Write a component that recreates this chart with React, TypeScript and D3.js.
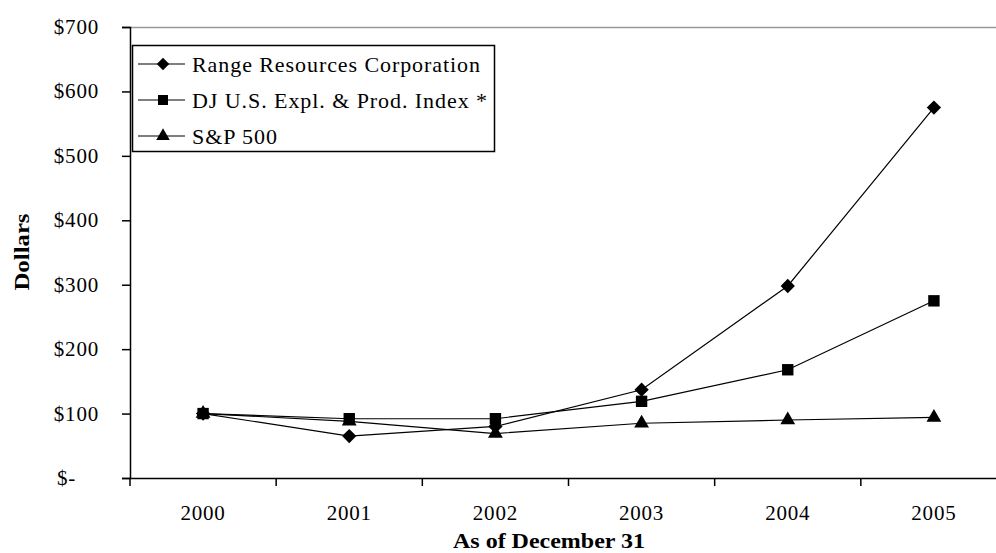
import { useEffect, useRef } from 'react';
import * as d3 from 'd3';

const years = ['2000', '2001', '2002', '2003', '2004', '2005'];
const rangeValues = [100, 65, 80, 137, 298, 575];
const djValues = [100, 92, 92, 119, 168, 275];
const spValues = [100, 88, 69, 85, 90, 94];
const yTicks = [0, 100, 200, 300, 400, 500, 600, 700];

const seriesNames = ['Range Resources Corporation', 'DJ U.S. Expl. & Prod. Index *', 'S&P 500'];
const seriesValues = [rangeValues, djValues, spValues];
const seriesMarkers = [d3.symbolDiamond2, d3.symbolSquare, d3.symbolTriangle];
const legendWidths = [288, 295, 85];

export default function App() {
  const svgRef = useRef(null);

  useEffect(() => {
    document.body.style.margin = '0';
    const svg = d3.select(svgRef.current);
    svg.selectAll('*').remove();

    const font = '"Liberation Serif", "Times New Roman", serif';
    const x = d3.scaleBand().domain(years).range([130, 1007]);
    const y = d3.scaleLinear().domain([0, 700]).range([478, 27]);

    // top border of plot area
    svg.append('line')
      .attr('x1', 130).attr('x2', 996)
      .attr('y1', 27.5).attr('y2', 27.5)
      .attr('stroke', '#999').attr('stroke-width', 1.5);

    // Y axis
    const yAxis = svg.append('g')
      .attr('transform', 'translate(130,0)')
      .call(d3.axisLeft(y).tickValues(yTicks).tickSize(8).tickFormat(() => ''));
    yAxis.select('.domain').attr('stroke-width', 1.5);
    yAxis.selectAll('.tick line').attr('stroke-width', 1.5);

    svg.append('g').selectAll('text')
      .data(yTicks)
      .enter()
      .append('text')
      .attr('x', d => d === 0 ? 76 : 99)
      .attr('y', d => y(d) + 7)
      .attr('text-anchor', 'end')
      .style('font-family', font)
      .style('font-size', '21px')
      .style('letter-spacing', '0.8px')
      .text(d => d === 0 ? '$-' : `$${d}`);

    // X axis
    const xAxis = svg.append('g')
      .attr('transform', 'translate(0,478)')
      .call(d3.axisBottom(x).tickSize(0).tickFormat(() => ''));
    xAxis.select('.domain').attr('stroke-width', 1.5);
    xAxis.append('g').selectAll('line')
      .data(years)
      .enter()
      .append('line')
      .attr('x1', d => x(d))
      .attr('x2', d => x(d))
      .attr('y1', 0).attr('y2', 8)
      .attr('stroke', '#000').attr('stroke-width', 1.5);

    svg.append('g').selectAll('text')
      .data(years)
      .enter()
      .append('text')
      .attr('x', d => x(d) + x.bandwidth() / 2)
      .attr('y', 520)
      .attr('text-anchor', 'middle')
      .style('font-family', font)
      .style('font-size', '21px')
      .style('letter-spacing', '0.8px')
      .text(d => d);

    // axis titles
    svg.append('text')
      .attr('transform', 'translate(29,252) rotate(-90)')
      .attr('text-anchor', 'middle')
      .attr('textLength', 77)
      .attr('lengthAdjust', 'spacingAndGlyphs')
      .style('font-family', font)
      .style('font-size', '20px')
      .style('font-weight', 'bold')
      .text('Dollars');

    svg.append('text')
      .attr('x', 549)
      .attr('y', 548)
      .attr('text-anchor', 'middle')
      .attr('textLength', 192)
      .attr('lengthAdjust', 'spacingAndGlyphs')
      .style('font-family', font)
      .style('font-size', '20px')
      .style('font-weight', 'bold')
      .text('As of December 31');

    // series
    const line = d3.line()
      .x((d, i) => x(years[i]) + x.bandwidth() / 2)
      .y(d => y(d));

    seriesValues.forEach((vals, s) => {
      svg.append('path')
        .datum(vals)
        .attr('fill', 'none')
        .attr('stroke', '#000')
        .attr('stroke-width', 1.2)
        .attr('d', line);

      const sym = d3.symbol().type(seriesMarkers[s]).size(s === 2 ? 95 : 130);
      svg.append('g').selectAll('path')
        .data(vals)
        .enter()
        .append('path')
        .attr('transform', (d, i) => `translate(${x(years[i]) + x.bandwidth() / 2},${y(d)})`)
        .attr('d', sym())
        .attr('fill', '#000');
    });

    // legend
    const legend = svg.append('g');
    legend.append('rect')
      .attr('x', 132.5).attr('y', 45.5)
      .attr('width', 362).attr('height', 106)
      .attr('fill', '#fff')
      .attr('stroke', '#000')
      .attr('stroke-width', 1.5);

    seriesNames.forEach((name, s) => {
      const ly = 64 + s * 36;
      legend.append('line')
        .attr('x1', 138).attr('x2', 185)
        .attr('y1', ly).attr('y2', ly)
        .attr('stroke', '#000').attr('stroke-width', 1.2);
      legend.append('path')
        .attr('transform', `translate(163,${ly})`)
        .attr('d', d3.symbol().type(seriesMarkers[s]).size(s === 2 ? 80 : 100)())
        .attr('fill', '#000');
      legend.append('text')
        .attr('x', 192)
        .attr('y', ly + 8)
        .attr('textLength', legendWidths[s])
        .attr('lengthAdjust', 'spacing')
        .style('font-family', font)
        .style('font-size', '22px')
        .text(name);
    });
  }, []);

  return <svg ref={svgRef} width={996} height={553} style={{ display: 'block', background: '#fff' }} />;
}
